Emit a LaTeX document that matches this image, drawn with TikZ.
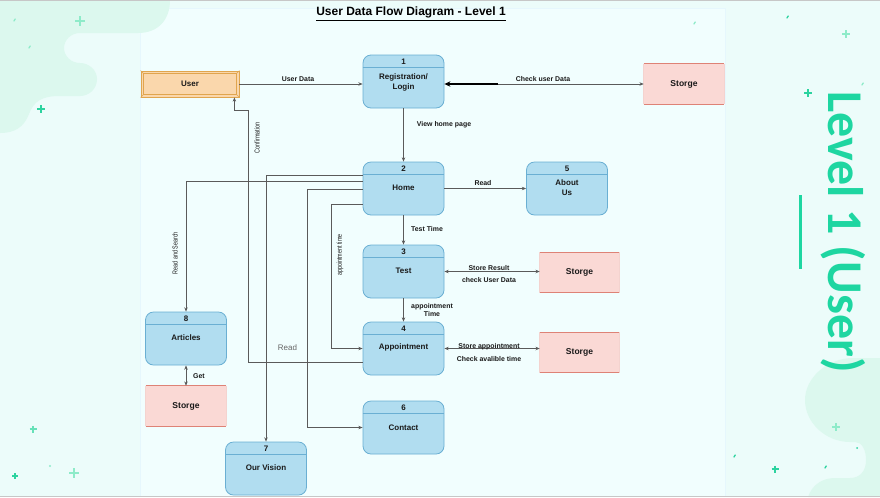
\documentclass[tikz,border=0pt]{standalone}
\usepackage{fontspec}
\setmainfont{Liberation Sans}
\newfontfamily\levelfont{Carlito}
\usepackage{graphicx}
\usetikzlibrary{arrows.meta,calc}
\definecolor{bgc}{HTML}{ECFCFA}
\definecolor{panelc}{HTML}{F1FEFE}
\definecolor{blobc}{HTML}{DCF8EE}
\definecolor{plusl}{HTML}{8EEBC9}
\definecolor{plusd}{HTML}{2CD39F}
\definecolor{greenc}{HTML}{1ED6A1}
\definecolor{procfill}{HTML}{B1DDF0}
\definecolor{procline}{HTML}{6AAFD3}
\definecolor{storefill}{HTML}{FAD9D5}
\definecolor{storeline}{HTML}{DE8276}
\definecolor{userfill}{HTML}{FAD7AC}
\definecolor{userline}{HTML}{E0A54E}
\definecolor{linec}{HTML}{5A5A5A}
\newcommand\dfproc[6]{%
  \node[proc] (#1) at (#2,#3) {};
  \draw[procline, line width=0.6pt] ($(#1.north west)+(0,13)$) -- ($(#1.north east)+(0,13)$);
  \node[ntext] (#1-n) at ($(#1.north)+(0,7)$) {#4};
  \node[ntext] (#1-t) at ($(#1.north)+(0,#6)$) {#5};}
\newcommand\dfstore[5]{%
  \node[store, minimum width=#4*0.75pt] (#1) at (#2,#3) {};
  \draw[storeline, line width=0.7pt] (#1.north west) -- (#1.north east) (#1.south west) -- (#1.south east);
  \draw[storeline!35, line width=0.4pt] (#1.north west) -- (#1.south west) (#1.north east) -- (#1.south east);
  \node[ntext, font=\fontsize{6.4pt}{7pt}\selectfont\bfseries] (#1-t) at (#1.center) {#5};}
\newcommand\plusmark[4]{\draw[#4, line width=0.9pt] (#1-#3,#2) -- (#1+#3,#2) (#1,#2-#3) -- (#1,#2+#3);}
\newcommand\dashmark[3]{\draw[#3, line width=1pt, line cap=round] (#1,#2) -- ++(1.2,-2);}
\begin{document}
\begin{tikzpicture}[x=0.75pt,y=-0.75pt,
  proc/.style={draw=procline, fill=procfill, rounded corners=6pt, minimum width=60.75pt, minimum height=39.75pt, inner sep=0, line width=0.6pt},
  store/.style={fill=storefill, minimum height=30pt, inner sep=0},
  flow/.style={draw=linec, line width=0.55pt, -{Stealth[length=3.2pt,width=2.6pt]}},
  bflow/.style={draw=linec, line width=0.55pt, {Stealth[length=3.2pt,width=2.6pt]}-{Stealth[length=3.2pt,width=2.6pt]}},
  lbl/.style={font=\fontsize{5.2pt}{6.6pt}\selectfont\bfseries, text=black!90, inner sep=0, align=center},
  rlbl/.style={font=\fontsize{5.4pt}{6pt}\selectfont, text=black!90, inner sep=0, rotate=90},
  ntext/.style={font=\fontsize{6pt}{7pt}\selectfont\bfseries, text=black!90, align=center, inner sep=0}]
\useasboundingbox (0,0) rectangle (880,497);
% background
\fill[bgc] (0,0) rectangle (880,497);
\fill[panelc] (140,8) rectangle (725,497);
\draw[white!90!cyan, line width=0.4pt] (140,497) -- (140,8) -- (725,8) -- (725,497);
\fill[blobc] (0,0) -- (170,0) .. controls (170,20) and (158,33) .. (138,33) -- (80,33)
  .. controls (71,33) and (64,40) .. (64,48) .. controls (64,56) and (71,63) .. (80,63)
  .. controls (89,63) and (97,70) .. (97,79) .. controls (97,89) and (89,96) .. (80,96)
  -- (60,96) .. controls (42,96) and (34,101) .. (29,114) .. controls (24,127) and (15,133) .. (0,133) -- cycle;
\fill[blobc] (880,358) -- (853,358) .. controls (827,358) and (805,378) .. (805,400)
  .. controls (805,423) and (826,442) .. (850,442) -- (855,442)
  .. controls (862,442) and (866,450) .. (866,460) .. controls (866,471) and (860,478) .. (850,478)
  -- (835,478) .. controls (822,478) and (812,485) .. (808,497) -- (880,497) -- cycle;
\draw[black!22, line width=0.9pt] (0,0.5) -- (880,0.5) (0,496.5) -- (880,496.5);
% decorations
\plusmark{80}{21}{5}{plusl}
\plusmark{41}{109}{4}{plusd}
\plusmark{33}{429}{3.5}{plusl!60!plusd}
\plusmark{15}{476}{3}{plusd}
\plusmark{74}{473}{5}{plusl}
\plusmark{846}{34}{4}{plusl}
\plusmark{808}{93}{4}{plusd}
\plusmark{836}{427}{4}{plusl}
\plusmark{775}{469}{3.5}{plusd}
\dashmark{14}{21}{plusl}
\dashmark{29}{48}{plusl}
\fill[plusl] (50,466) circle (1.2);
\dashmark{787}{18}{plusd}
\dashmark{862}{85}{plusl}
\dashmark{734}{457}{plusd}
\dashmark{825}{468}{plusd}
\fill[plusd] (857,448) circle (1);
\dashmark{694}{24}{plusl}
% side title
\node[text=greenc, rotate=-90, inner sep=0, font=\levelfont\bfseries\fontsize{37.5pt}{40pt}\selectfont] (side) at (843,232) {Level 1 (User)};
\fill[greenc] (798.5,195) rectangle (801.5,269);
% title
\node[font=\fontsize{9pt}{10pt}\selectfont\bfseries, inner sep=0] (title) at (411,14) {\underline{User Data Flow Diagram - Level 1}};
% user entity
\node[fill=userfill, draw=userline, line width=0.6pt, minimum width=73.5pt, minimum height=19.5pt, inner sep=0] (user) at (190,84) {};
\draw[userline, line width=0.5pt] ($(user.north west)+(3,3)$) rectangle ($(user.south east)+(-3,-3)$);
\draw[userline, line width=0.5pt] (user.north west) -- ++(3,3) (user.north east) -- ++(-3,3) (user.south west) -- ++(3,-3) (user.south east) -- ++(-3,-3);
\node[ntext] (user-t) at (user.center) {User};
% processes
\dfproc{reg}{403.5}{81.5}{1}{Registration/\\Login}{28}
\dfproc{home}{403.5}{188.5}{2}{Home}{26}
\dfproc{about}{567}{188.5}{5}{About\\Us}{26}
\dfproc{test}{403.5}{271.5}{3}{Test}{26}
\dfproc{appt}{403.5}{348.5}{4}{Appointment}{26}
\dfproc{art}{186}{338.5}{8}{Articles}{26}
\dfproc{contact}{403.5}{427.5}{6}{Contact}{27}
\dfproc{vision}{266}{468.5}{7}{Our Vision}{26}
% stores
\dfstore{st1}{684}{84}{80}{Storge}
\dfstore{st2}{579.5}{272.5}{79}{Storge}
\dfstore{st3}{579.5}{352.5}{79}{Storge}
\dfstore{st4}{186}{406}{80}{Storge}
% flows
\draw[flow] (user.east) -- (reg.west |- user.east);
\node[lbl] (l-ud) at (298,79) {User Data};
\coordinate (thk) at (498,84);
\draw[flow] (thk) -- (st1.west);
\draw[draw=black, line width=1.3pt, -{Stealth[length=4.5pt,width=4pt]}] (thk) -- (reg.east |- thk);
\node[lbl] (l-cud) at (543,79) {Check user Data};
\draw[flow] (reg.south) -- (home.north);
\node[lbl] (l-vhp) at (444,125) {View home page};
\draw[flow] (home.east) -- (about.west);
\node[lbl] (l-read1) at (483,183) {Read};
\draw[flow] (home.south) -- (test.north);
\node[lbl] (l-tt) at (427,229) {Test Time};
\draw[flow] (test.south) -- (appt.north);
\node[lbl] (l-at) at (432,310) {appointment\\Time};
\draw[bflow] (test.east) -- (st2.west |- test.east);
\node[lbl] (l-sr) at (489,268) {Store Result};
\node[lbl] (l-cu) at (489,280.5) {check User Data};
\draw[bflow] (appt.east) -- (st3.west |- appt.east);
\node[lbl] (l-sa) at (489,347) {Store appointment};
\node[lbl] (l-ca) at (489,359) {Check avalible time};
\draw[bflow] (art.south) -- (st4.north);
\node[lbl] (l-get) at (199,376) {Get};
\draw[flow] ($(home.west)+(0,-7.5)$) -| (art.north);
\node[rlbl] (l-rs) at (175,253) {\scalebox{0.75}[1]{Read and Search}};
\draw[flow] ($(home.west)+(0,-13.5)$) -| (vision.north);
\draw[flow] ($(home.west)+(0,0.5)$) -- (307,189) |- (contact.west);
\draw[flow] ($(home.west)+(0,15.5)$) -- (331.5,204) |- (appt.west);
\node[rlbl] (l-apt) at (340,255) {\scalebox{0.75}[1]{appointment time}};
\draw[flow] ($(appt.west)+(0,13.5)$) -| (248,110) -| ($(user.south east)+(-5,0)$);
\node[rlbl] (l-conf) at (257,138) {\scalebox{0.75}[1]{Confirmation}};
\node[font=\fontsize{6pt}{7pt}\selectfont, text=black!60, inner sep=0] (l-read2) at (287.5,347.5) {Read};
\end{tikzpicture}
\end{document}
